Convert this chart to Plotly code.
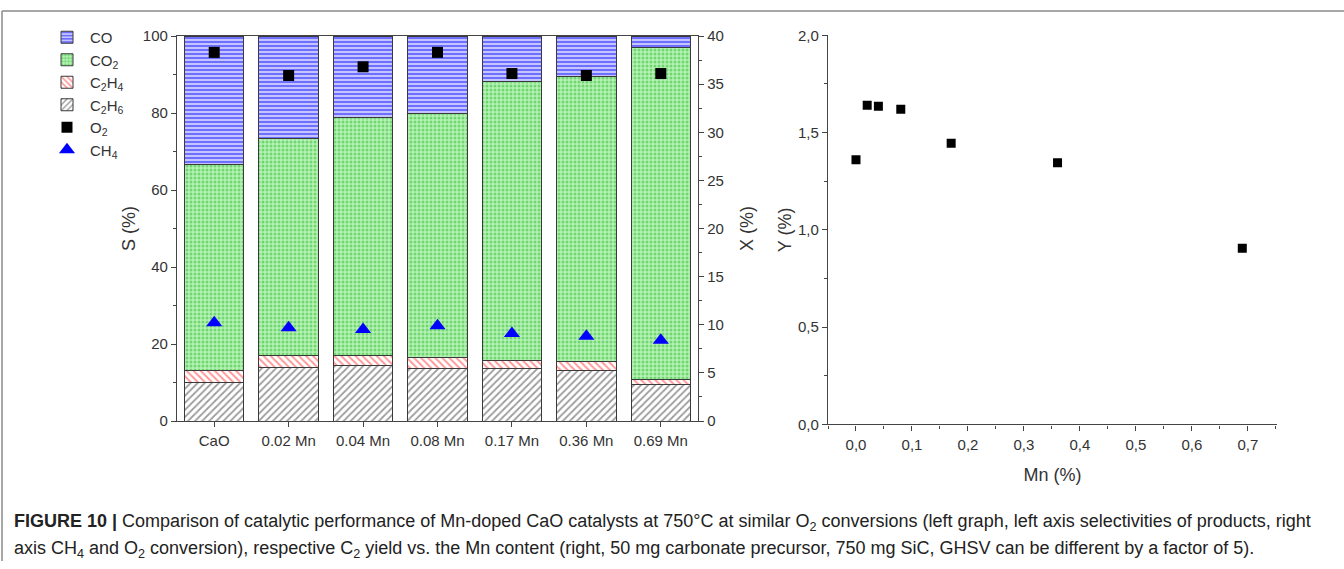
import plotly.graph_objects as go

# ---------------- data ----------------
categories = ["CaO", "0.02 Mn", "0.04 Mn", "0.08 Mn", "0.17 Mn", "0.36 Mn", "0.69 Mn"]
# cumulative tops (S %)
c2h6_top = [10.0, 13.8, 14.3, 13.7, 13.7, 13.0, 9.4]
c2h4_top = [13.2, 17.1, 17.1, 16.4, 15.8, 15.4, 10.7]
co2_top = [66.5, 73.5, 78.8, 80.0, 88.3, 89.5, 96.9]
co_top = [100, 100, 100, 100, 100, 100, 100]

s_c2h6 = c2h6_top
s_c2h4 = [round(b - a, 2) for a, b in zip(c2h6_top, c2h4_top)]
s_co2 = [round(b - a, 2) for a, b in zip(c2h4_top, co2_top)]
s_co = [round(b - a, 2) for a, b in zip(co2_top, co_top)]

x_o2 = [38.3, 35.9, 36.8, 38.3, 36.1, 35.9, 36.1]
x_ch4 = [10.2, 9.7, 9.5, 9.9, 9.1, 8.8, 8.4]

mn_content = [0.0, 0.02, 0.04, 0.08, 0.17, 0.36, 0.69]
c2_yield = [1.36, 1.64, 1.635, 1.62, 1.445, 1.345, 0.905]

s_ticks = [0, 20, 40, 60, 80, 100]
x_ticks = [0, 5, 10, 15, 20, 25, 30, 35, 40]
mn_ticks = [0.0, 0.1, 0.2, 0.3, 0.4, 0.5, 0.6, 0.7]
mn_ticktext = ["0,0", "0,1", "0,2", "0,3", "0,4", "0,5", "0,6", "0,7"]
y_ticks = [0.0, 0.5, 1.0, 1.5, 2.0]
y_ticktext = ["0,0", "0,5", "1,0", "1,5", "2,0"]

caption_1 = ("<b>FIGURE 10 |</b> Comparison of catalytic performance of Mn-doped CaO catalysts at 750°C at similar "
             "O<sub>2</sub> conversions (left graph, left axis selectivities of products, right")
caption_2 = ("axis CH<sub>4</sub> and O<sub>2</sub> conversion), respective C<sub>2</sub> yield vs. the Mn content "
             "(right, 50 mg carbonate precursor, 750 mg SiC, GHSV can be different by a factor of 5).")

FONT = "Liberation Sans, Arial, sans-serif"
TXT = "#333333"

# vertical placement compensates the page offset / slight vertical squeeze of the photo
OFF_Y = 8
YS = 0.97
W, H = 1344, 569


def px(x):
    return x / W


def py(y):
    return 1 - ((y - OFF_Y) / YS) / H


fig = go.Figure()
bar_line = dict(color="#3a3a3a", width=1)

fig.add_trace(go.Bar(x=categories, y=s_c2h6, name="C<sub>2</sub>H<sub>6</sub>", legendrank=4,
                     marker=dict(color="white", line=bar_line,
                                 pattern=dict(shape="/", fgcolor="#3a3a3a", bgcolor="white", size=5, solidity=0.35)),
                     xaxis="x", yaxis="y"))
fig.add_trace(go.Bar(x=categories, y=s_c2h4, name="C<sub>2</sub>H<sub>4</sub>", legendrank=3,
                     marker=dict(color="white", line=bar_line,
                                 pattern=dict(shape="\\", fgcolor="#ff3030", bgcolor="white", size=5, solidity=0.4)),
                     xaxis="x", yaxis="y"))
fig.add_trace(go.Bar(x=categories, y=s_co2, name="CO<sub>2</sub>", legendrank=2,
                     marker=dict(color="#98e898", line=bar_line,
                                 pattern=dict(shape=".", fgcolor="#2db82d", bgcolor="#b4f2b4", size=4, solidity=0.45)),
                     xaxis="x", yaxis="y"))
fig.add_trace(go.Bar(x=categories, y=s_co, name="CO", legendrank=1,
                     marker=dict(color="#7070ff", line=bar_line,
                                 pattern=dict(shape="-", fgcolor="#1a1aff", bgcolor="#c4c4ff", size=4, solidity=0.5)),
                     xaxis="x", yaxis="y"))

fig.add_trace(go.Scatter(x=categories, y=x_o2, name="O<sub>2</sub>", mode="markers", legendrank=5,
                         marker=dict(symbol="square", size=11, color="black"),
                         xaxis="x", yaxis="y2"))
fig.add_trace(go.Scatter(x=categories, y=x_ch4, name="CH<sub>4</sub>", mode="markers", legendrank=6,
                         marker=dict(symbol="triangle-up", size=14, color="#0000ff"),
                         xaxis="x", yaxis="y2"))

fig.add_trace(go.Scatter(x=mn_content, y=c2_yield, mode="markers", showlegend=False,
                         marker=dict(symbol="square", size=9, color="black"),
                         xaxis="x3", yaxis="y3"))

axis_common = dict(showline=True, linecolor="#444444", linewidth=1.3, ticks="outside",
                   tickcolor="#444444", ticklen=5, tickwidth=1.2, showgrid=False, zeroline=False,
                   tickfont=dict(family=FONT, size=15, color=TXT))
title_font = dict(family=FONT, size=18, color=TXT)

left_dom = [px(177), px(698)]
left_ydom = [py(420), py(35)]
right_dom = [px(828), px(1277)]
right_ydom = [py(423.3), py(34.3)]

fig.update_layout(
    width=W, height=H,
    margin=dict(l=0, r=0, t=0, b=0),
    paper_bgcolor="white", plot_bgcolor="white",
    barmode="stack", bargap=0.2,
    font=dict(family=FONT, color=TXT),
    showlegend=True,
    legend=dict(x=px(44), y=py(20), xanchor="left", yanchor="top",
                bgcolor="rgba(0,0,0,0)", font=dict(family=FONT, size=15, color=TXT),
                traceorder="normal", tracegroupgap=0, itemwidth=36),
    xaxis=dict(domain=left_dom, anchor="y", type="category", range=[-0.5, 6.5],
               mirror=True, ticklabelstandoff=1, **axis_common),
    yaxis=dict(domain=left_ydom, anchor="x", range=[0, 100], tickvals=s_ticks,
               minor=dict(ticks="outside", ticklen=3, tickcolor="#444444", dtick=10, tick0=0),
               title=dict(text="S (%)", font=title_font, standoff=2), **axis_common),
    yaxis2=dict(overlaying="y", anchor="x", side="right", range=[0, 40], tickvals=x_ticks,
                minor=dict(ticks="outside", ticklen=3, tickcolor="#444444", dtick=2.5, tick0=0),
                title=dict(text="X (%)", font=title_font, standoff=17), **axis_common),
    xaxis3=dict(domain=right_dom, anchor="y3", range=[-0.05, 0.752], tickvals=mn_ticks,
                ticktext=mn_ticktext, ticklabelstandoff=1,
                minor=dict(ticks="outside", ticklen=3, tickcolor="#444444", dtick=0.05, tick0=0),
                title=dict(text="Mn (%)", font=title_font, standoff=16), **axis_common),
    yaxis3=dict(domain=right_ydom, anchor="x3", range=[0, 2.0], tickvals=y_ticks,
                ticktext=y_ticktext,
                minor=dict(ticks="outside", ticklen=3, tickcolor="#444444", dtick=0.25, tick0=0),
                title=dict(text="Y (%)", font=title_font, standoff=1), **axis_common),
)

# figure frame (top and left edge lines)
fig.add_shape(type="line", xref="paper", yref="paper", x0=px(2), x1=1.0, y0=py(10), y1=py(10),
              line=dict(color="#8a8a8a", width=1.5))
fig.add_shape(type="line", xref="paper", yref="paper", x0=px(2), x1=px(2), y0=0, y1=py(10),
              line=dict(color="#8a8a8a", width=1.5))

fig.add_annotation(text=caption_1, xref="paper", yref="paper", x=px(12), y=py(521),
                   xanchor="left", yanchor="middle", showarrow=False, align="left",
                   font=dict(family=FONT, size=18, color="#222222"))
fig.add_annotation(text=caption_2, xref="paper", yref="paper", x=px(12), y=py(548),
                   xanchor="left", yanchor="middle", showarrow=False, align="left",
                   font=dict(family=FONT, size=18, color="#222222"))

fig.write_html("out.html")
